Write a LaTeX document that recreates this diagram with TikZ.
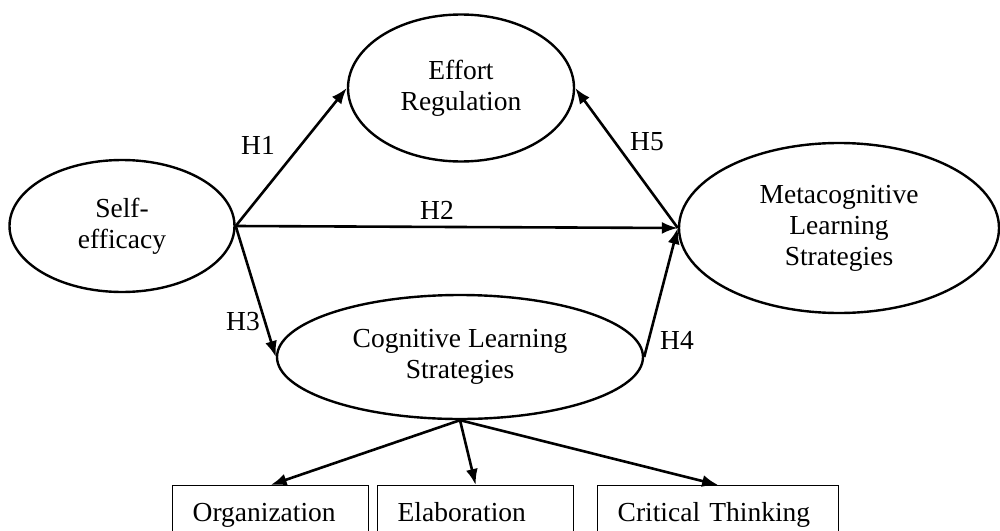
\documentclass[tikz,border=0pt]{standalone}
\usepackage{fontspec}
\setmainfont{Liberation Serif}
\usetikzlibrary{shapes.geometric,arrows.meta}
\tikzset{%
  construct/.style = {shape=ellipse, draw, line width=2.4pt,%
                      align=center, inner sep=0pt},%
  facet/.style     = {shape=rectangle, draw, line width=1.3pt,%
                      align=left, inner xsep=20pt, inner ysep=0pt,%
                      text height=19pt, text depth=7pt,%
                      anchor=north west, minimum height=60pt},%
  link/.style      = {draw, line width=2.6pt, -{Latex[length=16pt,width=12pt]}}%
}
\begin{document}
\begin{tikzpicture}[x=1pt,y=-1pt,
	every node/.style = {font=\fontsize{27.5}{31}\selectfont}]
	\useasboundingbox (0,0) rectangle (1000,530);
	\clip (0,0) rectangle (1000,530);
	% constructs
	\node [construct, minimum width=225pt, minimum height=132pt] (self) at (122,226) {Self-\\efficacy};
	\node [construct, minimum width=226pt, minimum height=147pt] (effort) at (461,88) {Effort\\Regulation};
	\node [construct, minimum width=320pt, minimum height=170pt] (meta) at (839,228) {Metacognitive\\Learning\\Strategies};
	\node [construct, minimum width=366pt, minimum height=124pt] (cog) at (460,357) {Cognitive Learning\\Strategies};
	% facets of cognitive strategies
	\node [facet, text width=156pt] (org) at (172,485) {Organization};
	\node [facet, text width=156pt] (elab) at (377,485) {Elaboration};
	\node [facet, text width=201pt] (crit) at (597,485) {Critical Thinking};
	% hypotheses
	\draw [link] (self.east) -- (effort.west);
	\draw [link] (self.east) -- (meta.west);
	\draw [link] (self.east) -- (cog.west);
	\draw [link] (cog.east) -- (meta.west);
	\draw [link] (meta.west) -- (effort.east);
	\draw [link] (cog.south) -- (org.north);
	\draw [link] (cog.south) -- (elab.north);
	\draw [link] (cog.south) -- (crit.north);
	\node (h1) at (258,145) {H1};
	\node (h2) at (437,210) {H2};
	\node (h3) at (243,322) {H3};
	\node (h4) at (677,340) {H4};
	\node (h5) at (647,142) {H5};
\end{tikzpicture}
\end{document}
